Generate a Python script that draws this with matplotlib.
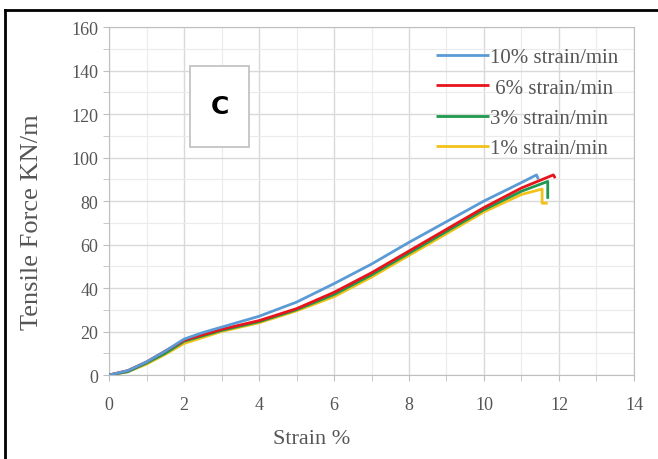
import matplotlib.pyplot as plt
from matplotlib.lines import Line2D
from matplotlib.patches import Rectangle

# strain (%) and tensile force (kN/m)
x_10 = [0, 0.5, 1, 1.5, 2, 2.5, 3, 3.5, 4, 5, 6, 7, 8, 9, 10, 11, 11.4, 11.45]
y_10 = [0, 2, 6, 11, 16.5, 19.5, 22, 24.5, 27, 33.5, 42, 51, 61, 70.5, 80, 88.5, 92, 90]

x_6 = [0, 0.5, 1, 1.5, 2, 3, 4, 5, 6, 7, 8, 9, 10, 11, 11.85, 11.9]
y_6 = [0, 2, 6, 11, 16, 21, 25, 30.5, 38, 47, 57, 67, 77, 86, 92, 90.5]

x_3 = [0, 0.5, 1, 1.5, 2, 3, 4, 5, 6, 7, 8, 9, 10, 11, 11.7, 11.7]
y_3 = [0, 1.5, 5.5, 10, 15.5, 20.5, 24.5, 30, 37, 46, 56, 66, 76, 84.5, 89, 81]

x_1 = [0, 0.5, 1, 1.5, 2, 3, 4, 5, 6, 7, 8, 9, 10, 11, 11.55, 11.55, 11.7]
y_1 = [0, 1.5, 5, 9.5, 14.5, 20, 24, 29.5, 36, 45, 55, 65, 75, 83, 85.5, 79, 79]

labels = ["10% strain/min", " 6% strain/min", "3% strain/min", "1% strain/min"]
colors = ["#5B9BD5", "#E8141C", "#1E9A4E", "#F2C21B"]


def main():
    plt.rcParams['font.family'] = ['Liberation Serif', 'DejaVu Serif']
    fig = plt.figure(figsize=(6.58, 4.6), dpi=100)
    ax = fig.add_axes([0.1657, 0.1826, 0.7978, 0.7565])

    series = [(x_10, y_10), (x_6, y_6), (x_3, y_3), (x_1, y_1)]
    handles = []
    # draw slowest rate first so the blue ends up on top
    for i in range(3, -1, -1):
        xs, ys = series[i]
        h, = ax.plot(xs, ys, color=colors[i], lw=2.0, label=labels[i],
                     solid_capstyle='butt', solid_joinstyle='round',
                     zorder=3 + (3 - i))
        handles.insert(0, h)

    ax.set_xlim(0, 14)
    ax.set_ylim(0, 160)
    ax.set_xticks(range(0, 15, 2))
    ax.set_xticks(range(0, 15, 1), minor=True)
    ax.set_yticks(range(0, 161, 20))
    ax.set_yticks(range(0, 161, 10), minor=True)
    ax.grid(True, which='major', color='#D9D9D9', lw=1.0)
    ax.grid(True, which='minor', color='#EBEBEB', lw=0.8)
    ax.set_axisbelow(True)
    for s in ax.spines.values():
        s.set_color('#BFBFBF')
    ax.tick_params(which='both', colors='#BFBFBF', labelcolor='#555555',
                   labelsize=13, length=4)
    ax.tick_params(axis='x', pad=11)

    ax.set_xlabel('Strain %', fontsize=16, color='#555555')
    ax.xaxis.set_label_coords(0.385, -0.155)
    ax.set_ylabel('Tensile Force KN/m', fontsize=19, color='#555555')
    ax.yaxis.set_label_coords(-0.125, 0.443)

    ax.legend(handles=handles, loc='upper right', bbox_to_anchor=(1.005, 0.995),
              frameon=False, fontsize=15, handlelength=2.5, handletextpad=0.05,
              labelspacing=0.52, labelcolor='#555555')

    # panel letter box
    ax.add_patch(Rectangle((2.17, 105), 1.55, 37, facecolor='white',
                           edgecolor='#BFBFBF', lw=1.2, zorder=5))
    ax.text(2.95, 123.5, 'C', ha='center', va='center', fontsize=18,
            fontweight='bold', family='DejaVu Sans', zorder=6)

    # black frame from the cropped source image
    fig.add_artist(Line2D([0.007, 1.0], [0.976, 0.976], color='black', lw=2))
    fig.add_artist(Line2D([0.007, 0.007], [0.0, 0.976], color='black', lw=2))

    fig.savefig('out.png', dpi=100)


if __name__ == "__main__":
    main()
